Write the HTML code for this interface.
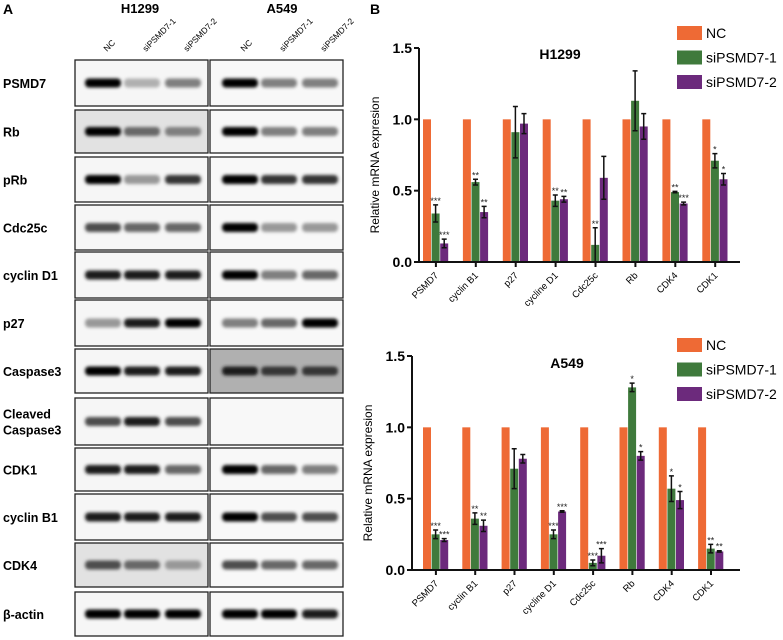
<!DOCTYPE html>
<html><head><meta charset="utf-8"><style>
body{margin:0;background:#fff;width:783px;height:640px;overflow:hidden;font-family:"Liberation Sans",sans-serif}
svg{position:absolute;left:0;top:0}
</style></head><body>
<svg id="fig" width="783" height="640" viewBox="0 0 783 640">
<defs>
<filter id="bl" x="-20%" y="-100%" width="140%" height="300%"><feGaussianBlur stdDeviation="1.6"/></filter>
</defs>
<g id="panelA">
<text x="3" y="14" font-size="14" font-weight="bold">A</text>
<text x="140" y="13" font-size="13" font-weight="bold" text-anchor="middle">H1299</text>
<text x="282" y="13" font-size="13" font-weight="bold" text-anchor="middle">A549</text>
</g>
<g id="chartTop"></g>
<g id="chartBot"></g>
<text x="370" y="14" font-size="14" font-weight="bold">B</text>
</svg>
<script>
const NS="http://www.w3.org/2000/svg";
function mk(tag,attrs,parent,txt){const e=document.createElementNS(NS,tag);for(const k in attrs)e.setAttribute(k,attrs[k]);if(txt!==undefined)e.textContent=txt;parent.appendChild(e);return e;}

// ---- Chart data ----
const categories=["PSMD7","cyclin B1","p27","cycline D1","Cdc25c","Rb","CDK4","CDK1"];
const seriesNames=["NC","siPSMD7-1","siPSMD7-2"];
const yTicks=[0,0.5,1.0,1.5];
const yTickLabels=["0.0","0.5","1.0","1.5"];
const h1299NC=[1,1,1,1,1,1,1,1];
const h1299Si1=[0.34,0.56,0.91,0.43,0.12,1.13,0.49,0.71];
const h1299Si1Err=[0.06,0.02,0.18,0.04,0.12,0.21,0.005,0.05];
const h1299Si2=[0.13,0.35,0.97,0.44,0.59,0.95,0.41,0.58];
const h1299Si2Err=[0.03,0.04,0.07,0.02,0.15,0.09,0.01,0.04];
const h1299Sig1=["***","**","","**","**","","**","*"];
const h1299Sig2=["***","**","","**","","","***","*"];
const a549NC=[1,1,1,1,1,1,1,1];
const a549Si1=[0.25,0.36,0.71,0.25,0.05,1.28,0.57,0.15];
const a549Si1Err=[0.03,0.04,0.14,0.03,0.02,0.03,0.09,0.03];
const a549Si2=[0.21,0.31,0.78,0.41,0.10,0.80,0.49,0.13];
const a549Si2Err=[0.01,0.04,0.03,0.005,0.05,0.03,0.06,0.005];
const a549Sig1=["***","**","","***","***","*","*","**"];
const a549Sig2=["***","**","","***","***","*","*","**"];

const colors=["#EE6A35","#3F7A3C","#6C2A7C"];

function drawChart(g,cfg){
  const y=v=>cfg.y0-(v/1.5)*(cfg.y0-cfg.yTop);
  const bw=8.6, gs=cfg.gs;
  const x=(i,s)=>cfg.x0+i*gs+s*bw;
  const sets=[cfg.nc,cfg.s1,cfg.s2], errs=[null,cfg.e1,cfg.e2], sigs=[null,cfg.g1,cfg.g2];
  sets.forEach((arr,s)=>{
    arr.forEach((v,i)=>{
      const r=mk("rect",{x:x(i,s),y:y(v),width:bw-0.6,height:cfg.y0-y(v),fill:colors[s]},g);
      
      
      if(errs[s]){
        const cx=x(i,s)+bw/2-0.3, e=errs[s][i];
        const eb=mk("path",{d:`M${cx},${y(v+e)}V${y(Math.max(0,v-e))}M${cx-2.5},${y(v+e)}h5M${cx-2.5},${y(Math.max(0,v-e))}h5`,stroke:"#111","stroke-width":1.5,fill:"none"},g);
        
        
        if(sigs[s][i]){
          const t=mk("text",{x:cx,y:y(v+e)-1,"font-size":9,"text-anchor":"middle",fill:"#222"},g,sigs[s][i]);
          
          
        }
      }
    });
  });
  const ax=mk("path",{d:`M${cfg.ax},${cfg.yTop}V${cfg.y0}H${cfg.xEnd}`,stroke:"#111","stroke-width":2,fill:"none"},g);
  
  
  yTicks.forEach((t,k)=>{
    mk("path",{d:`M${cfg.ax-5},${y(t)}H${cfg.ax}`,stroke:"#111","stroke-width":2},g);
    const tl=mk("text",{x:cfg.ax-7,y:y(t)+5,"font-size":14,"font-weight":"bold","text-anchor":"end"},g,yTickLabels[k]);
    
    
  });
  categories.forEach((c,i)=>{
    const cx=x(i,1)+bw/2;
    mk("path",{d:`M${cx},${cfg.y0}v5`,stroke:"#111","stroke-width":2},g);
    const tl=mk("text",{x:cx+3,y:cfg.y0+14,"font-size":9.5,"text-anchor":"end",transform:`rotate(-45 ${cx+3} ${cfg.y0+14})`},g,c);
    
    
  });
  const yl=mk("text",{x:0,y:0,"font-size":12,"text-anchor":"middle",transform:`translate(${cfg.ax-40},${(cfg.y0+cfg.yTop)/2+10}) rotate(-90)`},g,"Relative mRNA expresion");
  
  
  const ti=mk("text",{x:cfg.titleX,y:cfg.titleY,"font-size":14,"font-weight":"bold","text-anchor":"middle"},g,cfg.title);
  
  
  seriesNames.forEach((n,s)=>{
    const ly=cfg.legY+s*24.5;
    const sw=mk("rect",{x:677,y:ly,width:25,height:14,fill:colors[s]},g);
    
    
    const lt=mk("text",{x:706,y:ly+12,"font-size":14},g,n);
    
    
  });
}
drawChart(document.getElementById("chartTop"),{y0:262,yTop:48,ax:419,xEnd:740,x0:423,gs:39.9,nc:h1299NC,s1:h1299Si1,e1:h1299Si1Err,s2:h1299Si2,e2:h1299Si2Err,g1:h1299Sig1,g2:h1299Sig2,title:"H1299",titleX:560,titleY:59,legY:26});
drawChart(document.getElementById("chartBot"),{y0:570,yTop:356,ax:412,xEnd:740,x0:423,gs:39.3,nc:a549NC,s1:a549Si1,e1:a549Si1Err,s2:a549Si2,e2:a549Si2Err,g1:a549Sig1,g2:a549Sig2,title:"A549",titleX:567,titleY:368,legY:338});

// ---- Blots ----
const A=document.getElementById("panelA");
const lanes=["NC","siPSMD7-1","siPSMD7-2"];
const laneXL=[103,142,183], laneXR=[240,279,320];
lanes.forEach((l,i)=>{
  [laneXL[i],laneXR[i]].forEach(lx=>{
    const t=mk("text",{x:lx+4,y:52,"font-size":8.5,transform:`rotate(-45 ${lx+4} 52)`},A,l);
    
    
  });
});
const rows=[["PSMD7",60,46],["Rb",110,43],["pRb",157,45],["Cdc25c",205,45],["cyclin D1",252,46],["p27",300,46],["Caspase3",349,44],["Cleaved|Caspase3",398,47],["CDK1",448,43],["cyclin B1",494,46],["CDK4",543,44],["β-actin",592,44]];
const bands=[[1,.2,.4,1,.4,.4],[.9,.5,.4,.9,.4,.4],[.9,.3,.7,1,.7,.7],[.6,.5,.5,.9,.3,.3],[.8,.8,.8,.9,.4,.5],[.3,.8,.9,.4,.5,.9],[.9,.8,.8,.8,.7,.7],[.6,.8,.6,0,0,0],[.8,.8,.5,1,.5,.4],[.8,.8,.8,1,.6,.6],[.6,.5,.3,.6,.5,.5],[.9,.9,.9,.9,.9,.8]];
rows.forEach((r,k)=>{
  const [name,ry,rh]=r;
  const parts=name.split("|");
  const lbl=mk("text",{x:3,y:ry+rh/2+5-(parts.length-1)*8,"font-size":12.5,"font-weight":"bold"},A);
  parts.forEach((p,j)=>mk("tspan",{x:3,dy:j?16:0},lbl,p));
  
  
  const bgs=[k==1||k==10?"#e2e2e2":"#f6f6f6", k==6?"#b0b0b0":"#f8f8f8"];
  [[75,laneXL],[210,laneXR]].forEach(([bx,lx],side)=>{
    const box=mk("rect",{x:bx,y:ry,width:133,height:rh,fill:bgs[side],stroke:"#222","stroke-width":1.3},A);
    
    
    lx.forEach((cx,i)=>{
      const v=bands[k][side*3+i];
      if(v<=0)return;
      const g=Math.max(0,Math.round(225-v*245));
      const b=mk("rect",{x:cx-18,y:ry+rh/2-4.5,width:36,height:9,rx:4,fill:`rgb(${g},${g},${g})`,filter:"url(#bl)"},A);
      
      
    });
  });
});
</script>
</body></html>
